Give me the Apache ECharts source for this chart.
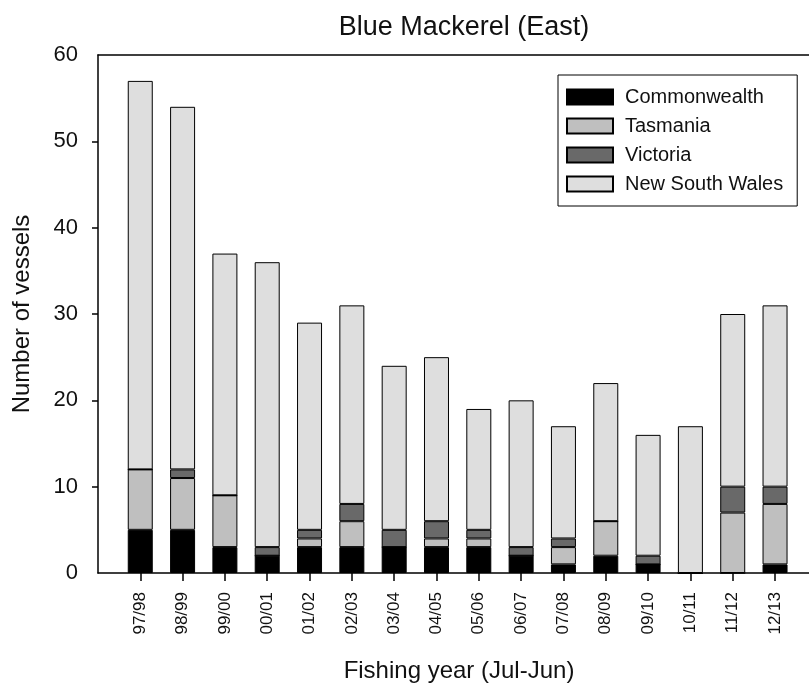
<!DOCTYPE html>
<html>
<head>
<meta charset="utf-8">
<script src="https://cdn.jsdelivr.net/npm/echarts@6/dist/echarts.min.js"></script>
<style>
html, body { margin: 0; padding: 0; background: #fff; }
#chart { width: 809px; height: 684px; }
</style>
</head>
<body>
<div id="chart"></div>
<script>
// fishing years on the x axis
var years = ["97/98", "98/99", "99/00", "00/01", "01/02", "02/03", "03/04", "04/05",
	"05/06", "06/07", "07/08", "08/09", "09/10", "10/11", "11/12", "12/13"];

// vessels per jurisdiction, bottom to top of each stack
var commonwealth = [5, 5, 3, 2, 3, 3, 3, 3, 3, 2, 1, 2, 1, 0, 0, 1];
var tasmania     = [7, 6, 6, 0, 1, 3, 0, 1, 1, 0, 2, 4, 0, 0, 7, 7];
var victoria     = [0, 1, 0, 1, 1, 2, 2, 2, 1, 1, 1, 0, 1, 0, 3, 2];
var nsw          = [45, 42, 28, 33, 24, 23, 19, 19, 14, 17, 13, 16, 14, 17, 20, 21];

var yTicks = [0, 10, 20, 30, 40, 50, 60];

var FONT = "Liberation Sans";
var myChart = echarts.init(document.getElementById('chart'));

function barSeries(name, data, color) {
	return {
		name: name,
		type: 'bar',
		stack: 'all',
		xAxisIndex: 0,
		yAxisIndex: 0,
		barWidth: 25,
		data: data,
		itemStyle: {
			color: color,
			borderColor: '#000',
			borderWidth: 1
		},
		animation: false
	};
}

var option = {
	backgroundColor: '#fff',
	title: {
		text: 'Blue Mackerel (East)',
		left: 459,
		textAlign: 'center',
		top: 9,
		textStyle: { fontFamily: FONT, fontSize: 27, fontWeight: 'normal', color: '#111' }
	},
	legend: {
		orient: 'vertical',
		left: 558,
		top: 75,
		padding: [12, 14, 12, 8],
		borderColor: '#000',
		borderWidth: 1,
		backgroundColor: '#fff',
		itemWidth: 46,
		itemHeight: 15,
		itemGap: 9,
		icon: 'rect',
		selectedMode: false,
		textStyle: { fontFamily: FONT, fontSize: 20, color: '#111', lineHeight: 15, padding: [0, 0, 0, 7] },
		data: ['Commonwealth', 'Tasmania', 'Victoria', 'New South Wales']
	},
	// grid 0 holds the bars, grid 1 the frame (plot starts a slot left of the first bar)
	grid: [{
		left: 119.1,
		right: 12.8,
		top: 55,
		bottom: 111,
		containLabel: false,
		outerBoundsMode: 'none'
	}, {
		left: 98,
		right: 0,
		top: 55,
		bottom: 111,
		containLabel: false,
		outerBoundsMode: 'none'
	}],
	xAxis: [{
		type: 'category',
		gridIndex: 0,
		data: years,
		boundaryGap: true,
		axisLine: { show: false },
		axisTick: { show: true, alignWithLabel: true, length: 8, lineStyle: { color: '#000', width: 1.5 } },
		axisLabel: {
			rotate: 90,
			margin: 19,
			interval: 0,
			fontFamily: FONT,
			fontSize: 17,
			color: '#111'
		}
	}, {
		type: 'value',
		gridIndex: 1,
		min: 0,
		max: 1,
		name: 'Fishing year (Jul-Jun)',
		nameLocation: 'middle',
		nameGap: 86,
		nameTextStyle: { fontFamily: FONT, fontSize: 24, color: '#111', padding: [0, 0, 0, 11] },
		axisLine: { show: true, lineStyle: { color: '#000', width: 1.5 } },
		axisTick: { show: false },
		axisLabel: { show: false },
		splitLine: { show: false }
	}, {
		type: 'value',
		gridIndex: 1,
		position: 'top',
		min: 0,
		max: 1,
		axisLine: { show: true, lineStyle: { color: '#000', width: 1.5 } },
		axisTick: { show: false },
		axisLabel: { show: false },
		splitLine: { show: false }
	}],
	yAxis: [{
		type: 'value',
		gridIndex: 0,
		min: 0,
		max: 60,
		show: false
	}, {
		type: 'value',
		gridIndex: 1,
		min: 0,
		max: 60,
		interval: 10,
		name: 'Number of vessels',
		nameLocation: 'middle',
		nameGap: 64,
		nameTextStyle: { fontFamily: FONT, fontSize: 24, color: '#111' },
		splitLine: { show: false },
		axisLine: { show: true, onZero: false, lineStyle: { color: '#000', width: 1.5 } },
		axisTick: { show: true, length: 6, customValues: [10, 20, 30, 40, 50], lineStyle: { color: '#000', width: 1.5 } },
		axisLabel: {
			margin: 20,
			customValues: yTicks,
			fontFamily: FONT,
			fontSize: 22,
			color: '#111'
		}
	}],
	series: [
		barSeries('Commonwealth', commonwealth, '#000000'),
		barSeries('Tasmania', tasmania, '#bfbfbf'),
		barSeries('Victoria', victoria, '#696969'),
		barSeries('New South Wales', nsw, '#dedede')
	]
};
myChart.setOption(option);
</script>
</body>
</html>
